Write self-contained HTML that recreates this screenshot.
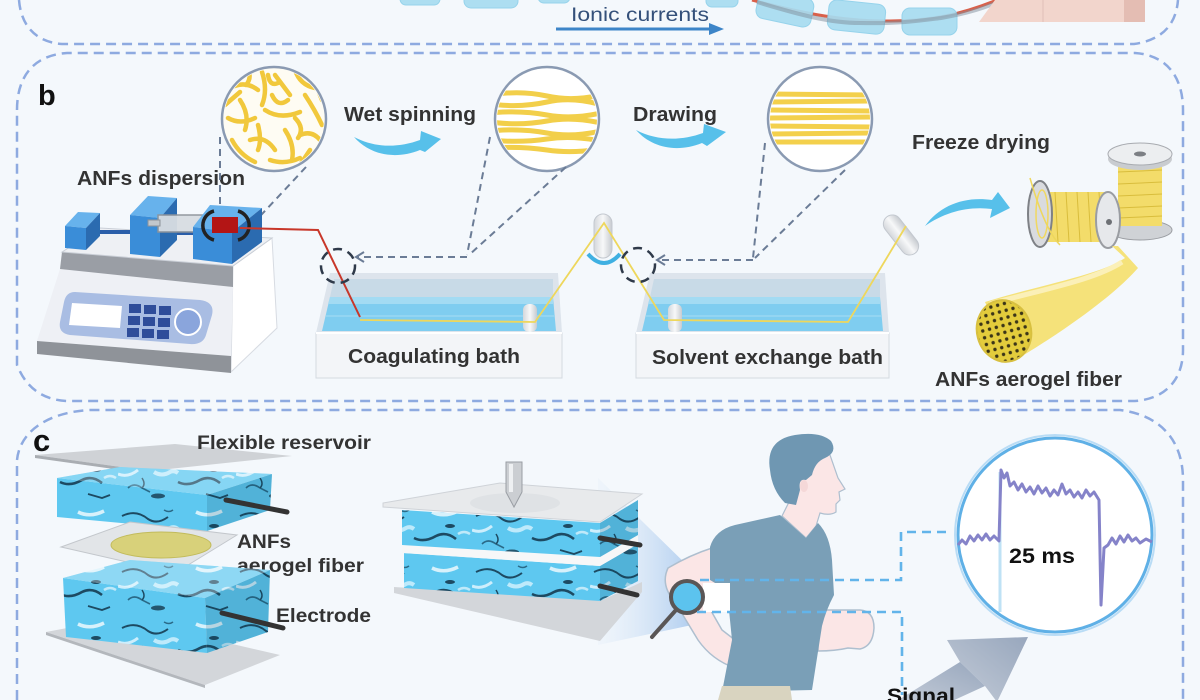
<!DOCTYPE html>
<html><head><meta charset="utf-8"><style>
html,body{margin:0;padding:0;background:#f4f8fc;}
svg{display:block}
text{font-family:"Liberation Sans",sans-serif;}
</style></head><body>
<svg width="1200" height="700" viewBox="0 0 1200 700" xmlns="http://www.w3.org/2000/svg">
<defs>
 <clipPath id="c1"><circle cx="274" cy="119" r="50"/></clipPath>
 <clipPath id="c2"><circle cx="547" cy="119" r="50"/></clipPath>
 <clipPath id="c3"><circle cx="820" cy="119" r="50"/></clipPath>
 <pattern id="foam" patternUnits="userSpaceOnUse" width="118" height="56">
  <rect width="118" height="56" fill="#5ec8f0"/>
  <path d="M4,12 q14,-7 26,3 q9,6 20,-2" stroke="#1d4a62" stroke-width="2" fill="none"/>
  <path d="M60,34 q10,5 22,-2 q10,-5 20,3" stroke="#1d4a62" stroke-width="2.6" fill="none"/>
  <path d="M10,40 q6,-6 14,0 l8,4" stroke="#2a6a88" stroke-width="1.6" fill="none"/>
  <path d="M78,8 q12,6 26,-1" stroke="#ffffff" stroke-width="3.5" fill="none" opacity="0.75"/>
  <path d="M0,26 q10,4 20,-4" stroke="#e8f8ff" stroke-width="3" fill="none" opacity="0.8"/>
  <path d="M36,24 q8,5 16,0 q4,-2 8,1" stroke="#e8f8ff" stroke-width="4" fill="none" opacity="0.7"/>
  <ellipse cx="96" cy="22" rx="5" ry="2" fill="#1d4a62"/>
  <ellipse cx="40" cy="48" rx="7" ry="2.5" fill="#24566f"/>
  <path d="M88,46 l14,4 l8,-3" stroke="#1d4a62" stroke-width="1.8" fill="none"/>
  <path d="M46,6 q5,3 9,0" stroke="#2a6a88" stroke-width="1.5" fill="none"/>
  <path d="M24,30 q4,6 0,10" stroke="#1d4a62" stroke-width="1.5" fill="none"/>
  <path d="M104,30 q6,-4 12,0" stroke="#ffffff" stroke-width="2.5" fill="none" opacity="0.6"/>
 </pattern>
 <pattern id="dots" patternUnits="userSpaceOnUse" width="7" height="7">
  <rect width="7" height="7" fill="#e3cc3c"/>
  <circle cx="3.5" cy="3.5" r="1.7" fill="#3b3518"/>
 </pattern>
 <linearGradient id="glow" x1="0" y1="0" x2="1" y2="0">
  <stop offset="0" stop-color="#e4eef9" stop-opacity="0.3"/>
  <stop offset="1" stop-color="#a9c9ee" stop-opacity="0.9"/>
 </linearGradient>
 <linearGradient id="sig" x1="0" y1="1" x2="1" y2="0">
  <stop offset="0" stop-color="#c4ccd8"/>
  <stop offset="1" stop-color="#98a7bd"/>
 </linearGradient>
 <linearGradient id="roller" x1="0" y1="0" x2="1" y2="0">
  <stop offset="0" stop-color="#d4d7db"/>
  <stop offset="0.5" stop-color="#f7f8f9"/>
  <stop offset="1" stop-color="#c7cbd0"/>
 </linearGradient>
</defs>
<rect width="1200" height="700" fill="#f4f8fc"/>

<!-- ===== Panel a remnants ===== -->
<path d="M752,0 C790,10 840,22 890,21 C930,21 960,15 997,0" stroke="#d9604a" stroke-width="3" fill="none"/>
<g fill="#a7dcf1" stroke="#8fd0ea" stroke-width="1" opacity="0.92">
 <rect x="400" y="-12" width="40" height="17" rx="6"/>
 <rect x="464" y="-14" width="54" height="22" rx="7"/>
 <rect x="538" y="-12" width="32" height="15" rx="6"/>
 <rect x="706" y="-14" width="32" height="21" rx="6"/>
 <rect x="757" y="-6" width="56" height="29" rx="8" transform="rotate(12 785 8)"/>
 <rect x="828" y="2" width="57" height="30" rx="8" transform="rotate(6 856 17)"/>
 <rect x="902" y="8" width="55" height="27" rx="8"/>
</g>
<path d="M757,2 C800,15 830,23 860,23 C900,24 925,20 941,18 C970,13 990,6 1002,0" stroke="#7f8e9c" stroke-width="4" fill="none" opacity="0.5"/>
<polygon points="979,22 995,0 1145,0 1145,22" fill="#f2d5cc"/>
<rect x="1124" y="0" width="21" height="22" fill="#e4bdb3"/>
<line x1="1043" y1="0" x2="1043" y2="22" stroke="#e0c0b8" stroke-width="1"/>
<text x="571" y="21" font-size="19" fill="#34507a" textLength="138" lengthAdjust="spacingAndGlyphs">Ionic currents</text>
<line x1="556" y1="29" x2="712" y2="29" stroke="#3d85c8" stroke-width="3"/>
<polygon points="709,23 724,29 709,35" fill="#3d85c8"/>

<!-- panel borders -->
<g fill="none" stroke="#8eaae0" stroke-width="2.5" stroke-dasharray="10 6">
 <path d="M19,0 C21,25 35,42 62,44 L1134,44 C1162,40 1176,25 1178,0"/>
 <path d="M17,110 C17,75 35,55 67,53 L1135,53 C1165,55 1183,75 1183,110 L1183,350 C1183,380 1165,399 1135,401 L67,401 C45,400 27,390 17,365 Z"/>
 <path d="M17,700 L17,460 C20,430 50,412 90,410 L1120,410 C1160,415 1183,440 1183,480 L1183,700"/>
</g>

<!-- ===== Panel b ===== -->
<text x="38" y="105" font-size="29" font-weight="bold" fill="#111">b</text>

<circle cx="274" cy="119" r="52" fill="#fefcf3" stroke="#8a9ab2" stroke-width="2.5"/>
<g clip-path="url(#c1)" stroke="#f1c83c" stroke-width="4.5" fill="none" stroke-linecap="round">
 <path d="M230,88 Q245,80 258,90"/><path d="M262,72 Q268,90 262,105"/><path d="M275,75 L290,95"/>
 <path d="M295,70 Q300,85 315,88"/><path d="M240,100 Q250,115 245,130"/><path d="M228,118 Q240,125 255,118"/>
 <path d="M265,110 Q280,120 300,112"/><path d="M305,95 Q315,110 322,125"/><path d="M285,130 Q295,145 292,160"/>
 <path d="M250,140 Q265,135 275,150"/><path d="M232,140 Q240,155 255,162"/><path d="M300,135 Q312,130 320,140"/>
 <path d="M270,160 Q285,165 300,158"/><path d="M248,70 Q252,78 246,85"/><path d="M288,100 Q278,108 272,95"/>
 <path d="M310,150 L298,168"/><path d="M225,105 L240,92"/><path d="M258,125 Q262,140 258,150"/>
 <path d="M280,82 Q270,88 268,75"/><path d="M312,75 L322,100"/><path d="M238,160 L228,150"/><path d="M295,118 Q305,128 298,138"/>
</g>
<circle cx="547" cy="119" r="52" fill="#ffffff" stroke="#8a9ab2" stroke-width="2.5"/>
<g clip-path="url(#c2)" stroke="#f2cf4a" stroke-width="5" fill="none">
 <path d="M490,95 Q520,90 547,96 T605,94"/><path d="M490,104 Q520,108 547,102 T605,106"/>
 <path d="M490,113 Q520,110 547,115 T605,112"/><path d="M490,122 Q520,126 547,121 T605,124"/>
 <path d="M490,131 Q520,128 547,133 T605,130"/><path d="M490,140 Q520,143 547,139 T605,142"/>
 <path d="M490,148 Q520,146 547,150 T605,148"/>
</g>
<circle cx="820" cy="119" r="52" fill="#ffffff" stroke="#8a9ab2" stroke-width="2.5"/>
<g clip-path="url(#c3)" stroke="#f3d04c" stroke-width="5" fill="none">
 <path d="M765,94 L875,95"/><path d="M765,102 L875,101"/><path d="M765,110 L875,111"/>
 <path d="M765,118 L875,117"/><path d="M765,126 L875,127"/><path d="M765,134 L875,133"/><path d="M765,142 L875,142"/>
</g>

<text x="344" y="121" font-size="20" font-weight="bold" fill="#333" textLength="132" lengthAdjust="spacingAndGlyphs">Wet spinning</text>
<text x="77" y="185" font-size="20" font-weight="bold" fill="#333" textLength="168" lengthAdjust="spacingAndGlyphs">ANFs dispersion</text>
<text x="633" y="121" font-size="20" font-weight="bold" fill="#333" textLength="84" lengthAdjust="spacingAndGlyphs">Drawing</text>
<text x="912" y="149" font-size="20" font-weight="bold" fill="#333" textLength="138" lengthAdjust="spacingAndGlyphs">Freeze drying</text>

<g fill="#57c0ea">
 <path d="M354,137 C370,155 395,160 420,150 L425,152 L441,139 L421,131 L420,140 C398,148 375,148 354,137 Z"/>
 <path d="M636,130 C652,148 677,153 702,143 L707,146 L726,132 L704,124 L703,133 C681,141 657,141 636,130 Z"/>
 <path d="M925,226 C940,205 965,196 992,200 L998,192 L1010,208 L990,218 L992,209 C968,206 945,212 925,226 Z"/>
</g>

<g fill="none" stroke="#6b7c96" stroke-width="2" stroke-dasharray="7 5">
 <path d="M220,137 L220,217"/><path d="M306,167 L249,228"/>
 <path d="M490,137 L467,255"/><path d="M566,167 L469,255"/><path d="M467,257 L358,257"/>
 <path d="M765,143 L753,258"/><path d="M845,170 L755,258"/><path d="M753,260 L659,260"/>
</g>
<path d="M364,252 L356,257 L364,262" stroke="#6b7c96" stroke-width="2" fill="none"/>
<path d="M665,255 L657,260 L665,265" stroke="#6b7c96" stroke-width="2" fill="none"/>

<!-- pump -->
<polygon points="233,266 272,238 277,328 231,372" fill="#ffffff" stroke="#d7dbe2"/>
<polygon points="60,269 233,287 231,356 37,341" fill="#eef0f5"/>
<polygon points="37,341 231,356 231,373 37,354" fill="#8f9399"/>
<polygon points="62,252 233,266 233,287 60,269" fill="#9a9ea5"/>
<polygon points="62,252 100,228 272,238 233,266" fill="#eef0f4" stroke="#c9ced6"/>
<path d="M75,292 L200,300 Q215,302 212,315 L206,335 Q203,345 190,344 L70,335 Q58,333 60,322 L64,302 Q66,292 75,292 Z" fill="#a9bde3"/>
<polygon points="72,303 122,306 120,328 69,325" fill="#ffffff"/>
<g fill="#2f4d9a">
 <rect x="129" y="304" width="12" height="9"/><rect x="144" y="305" width="12" height="9"/><rect x="159" y="306" width="12" height="9"/>
 <rect x="128" y="316" width="12" height="9"/><rect x="143" y="317" width="12" height="9"/><rect x="158" y="318" width="12" height="9"/>
 <rect x="127" y="328" width="12" height="9"/><rect x="142" y="329" width="12" height="9"/><rect x="157" y="330" width="12" height="9"/>
</g>
<circle cx="188" cy="322" r="13" fill="#8aa5dc" stroke="#ffffff" stroke-width="2"/>
<line x1="95" y1="232" x2="135" y2="232" stroke="#2a5da8" stroke-width="4"/>
<line x1="170" y1="233" x2="200" y2="233" stroke="#2a5da8" stroke-width="4"/>
<polygon points="65,226 78,212 100,213 86,228" fill="#67b2ec"/>
<polygon points="86,228 100,213 100,236 86,250" fill="#2b6bb0"/>
<polygon points="65,226 86,228 86,250 65,248" fill="#3a8dd8"/>
<polygon points="130,215 148,196 177,198 160,218" fill="#67b2ec"/>
<polygon points="160,218 177,198 177,240 160,257" fill="#2b6bb0"/>
<polygon points="130,215 160,218 160,257 130,254" fill="#3a8dd8"/>
<rect x="158" y="215" width="56" height="17" fill="#d8dde2" stroke="#8d939a" stroke-width="1.5" opacity="0.95"/>
<rect x="148" y="220" width="12" height="6" fill="#c2c7cc" stroke="#8d939a"/>
<polygon points="193,227 210,205 262,208 232,232" fill="#67b2ec"/>
<polygon points="232,232 262,208 262,242 232,264" fill="#2b6bb0"/>
<polygon points="193,227 232,232 232,264 193,259" fill="#3a8dd8"/>
<rect x="212" y="217" width="26" height="16" fill="#b31515"/>
<path d="M214,211 A15,15 0 0,0 214,240" stroke="#222" stroke-width="3.5" fill="none"/>
<path d="M238,211 A15,15 0 0,1 238,240" stroke="#222" stroke-width="3.5" fill="none"/>

<!-- coagulating bath -->
<polygon points="330,273 558,273 562,333 316,333" fill="#dde4ec"/>
<polygon points="334,279 553,279 553,297 330,297" fill="#c8dae7"/>
<polygon points="330,297 553,297 556,331 322,331" fill="#7fcdf0"/>
<polygon points="330,297 553,297 553,304 328,304" fill="#a3dbf3"/>
<line x1="326" y1="316" x2="555" y2="316" stroke="#9ad8f3" stroke-width="1.5"/>
<rect x="523" y="304" width="14" height="28" rx="6" fill="url(#roller)"/>
<rect x="316" y="333" width="246" height="45" fill="#f3f5f8" stroke="#d5dae1"/>
<line x1="316" y1="333" x2="562" y2="333" stroke="#ffffff" stroke-width="2"/>
<text x="348" y="363" font-size="20" font-weight="bold" fill="#333" textLength="172" lengthAdjust="spacingAndGlyphs">Coagulating bath</text>
<!-- solvent bath -->
<polygon points="650,273 885,273 889,333 636,333" fill="#dde4ec"/>
<polygon points="654,279 880,279 880,297 650,297" fill="#c8dae7"/>
<polygon points="650,297 880,297 883,331 642,331" fill="#7fcdf0"/>
<polygon points="650,297 880,297 880,304 648,304" fill="#a3dbf3"/>
<line x1="646" y1="316" x2="882" y2="316" stroke="#9ad8f3" stroke-width="1.5"/>
<rect x="668" y="304" width="14" height="28" rx="6" fill="url(#roller)"/>
<rect x="636" y="333" width="253" height="45" fill="#f3f5f8" stroke="#d5dae1"/>
<line x1="636" y1="333" x2="889" y2="333" stroke="#ffffff" stroke-width="2"/>
<text x="652" y="364" font-size="20" font-weight="bold" fill="#333" textLength="231" lengthAdjust="spacingAndGlyphs">Solvent exchange bath</text>

<rect x="594" y="214" width="18" height="44" rx="9" fill="url(#roller)" stroke="#c3c8cf"/>
<path d="M588,254 Q604,272 620,254" stroke="#3fb0e2" stroke-width="4" fill="none"/>
<rect x="892" y="212" width="18" height="46" rx="9" fill="url(#roller)" stroke="#c3c8cf" transform="rotate(-38 901 235)"/>

<polyline points="240,228 318,230 360,317" fill="none" stroke="#c8372a" stroke-width="2"/>
<polyline points="360,320 535,322 604,223 664,320 848,322 906,226" fill="none" stroke="#eed75c" stroke-width="1.8"/>

<circle cx="338" cy="266" r="17" fill="none" stroke="#2f3a4a" stroke-width="2.5" stroke-dasharray="9 6"/>
<circle cx="638" cy="265" r="17" fill="none" stroke="#2f3a4a" stroke-width="2.5" stroke-dasharray="9 6"/>

<!-- spools -->
<ellipse cx="1140" cy="230" rx="32" ry="10" fill="#cfd2d6" stroke="#9a9da2"/>
<rect x="1118" y="160" width="44" height="66" fill="#f3dc6a"/>
<g stroke="#d9bd3c" stroke-width="1">
 <line x1="1118" y1="172" x2="1162" y2="170"/><line x1="1118" y1="184" x2="1162" y2="182"/>
 <line x1="1118" y1="196" x2="1162" y2="194"/><line x1="1118" y1="208" x2="1162" y2="206"/><line x1="1118" y1="218" x2="1162" y2="216"/>
</g>
<ellipse cx="1140" cy="159" rx="32" ry="11" fill="#c9ccd0"/>
<ellipse cx="1140" cy="154" rx="32" ry="11" fill="#eceef0" stroke="#a8abb0"/>
<ellipse cx="1140" cy="154" rx="6" ry="2.5" fill="#7c7f84"/>
<rect x="1045" y="192" width="62" height="50" fill="#f3dc6a"/>
<g stroke="#d9bd3c" stroke-width="1">
 <line x1="1055" y1="192" x2="1058" y2="242"/><line x1="1066" y1="192" x2="1069" y2="242"/><line x1="1077" y1="192" x2="1080" y2="242"/>
 <line x1="1088" y1="192" x2="1091" y2="242"/><line x1="1099" y1="192" x2="1102" y2="242"/>
</g>
<ellipse cx="1040" cy="214" rx="12" ry="33" fill="#d9dbdf" stroke="#7e8186" stroke-width="2"/>
<ellipse cx="1042" cy="214" rx="6" ry="24" fill="none" stroke="#f0d860" stroke-width="1.5"/>
<ellipse cx="1108" cy="220" rx="12" ry="28" fill="#e6e8eb" stroke="#9a9da2" stroke-width="2"/>
<circle cx="1109" cy="222" r="3" fill="#6d7075"/>
<path d="M1030,178 Q1045,230 1060,245" stroke="#eed75c" stroke-width="1.5" fill="none"/>
<path d="M985,302 C1040,285 1100,275 1125,258 L1112,246 L1118,246 L1138,268 C1110,300 1050,340 1012,362 Z" fill="#f5e27a"/>
<path d="M990,304 C1040,290 1095,280 1122,262" stroke="#fbf0b8" stroke-width="5" fill="none"/>
<ellipse cx="1004" cy="331" rx="27" ry="31" fill="url(#dots)" stroke="#d8c040" stroke-width="2" transform="rotate(-15 1004 331)"/>
<text x="935" y="386" font-size="20" font-weight="bold" fill="#333" textLength="187" lengthAdjust="spacingAndGlyphs">ANFs aerogel fiber</text>

<!-- ===== Panel c ===== -->
<polygon points="35,455 175,444 292,456 150,471" fill="#cfd2d6"/>
<polygon points="35,455 150,471 150,474 35,458" fill="#a9adb2"/>
<text x="33" y="451" font-size="31" font-weight="bold" fill="#111">c</text>
<text x="197" y="449" font-size="19" font-weight="bold" fill="#333" textLength="174" lengthAdjust="spacingAndGlyphs">Flexible reservoir</text>
<!-- top block -->
<polygon points="57,478 120,467 272,474 207,495" fill="url(#foam)"/>
<polygon points="57,478 207,495 207,531 57,517" fill="url(#foam)"/>
<polygon points="207,495 272,474 270,510 207,531" fill="url(#foam)"/>
<polygon points="207,495 272,474 270,510 207,531" fill="#0a3550" opacity="0.15"/>
<polygon points="57,478 120,467 272,474 207,495" fill="#ffffff" opacity="0.25"/>
<line x1="226" y1="500" x2="287" y2="512" stroke="#333" stroke-width="5" stroke-linecap="round"/>
<!-- middle sheet -->
<polygon points="61,547 130,522 237,535 175,573" fill="#e2e5e8" stroke="#c3c7cc"/>
<ellipse cx="161" cy="545" rx="50" ry="13" fill="#d8d17a" stroke="#c2bb5c"/>
<text x="237" y="548" font-size="19" font-weight="bold" fill="#333" textLength="54" lengthAdjust="spacingAndGlyphs">ANFs</text>
<text x="237" y="572" font-size="19" font-weight="bold" fill="#333" textLength="127" lengthAdjust="spacingAndGlyphs">aerogel fiber</text>
<!-- bottom sheet -->
<polygon points="46,632 120,618 280,655 205,685" fill="#d3d6da"/>
<polygon points="46,632 205,685 205,688 46,635" fill="#b3b7bc"/>
<!-- bottom block -->
<polygon points="63,578 130,560 270,570 205,598" fill="url(#foam)"/>
<polygon points="63,578 205,598 207,653 66,637" fill="url(#foam)"/>
<polygon points="205,598 270,570 268,632 207,653" fill="url(#foam)"/>
<polygon points="205,598 270,570 268,632 207,653" fill="#0a3550" opacity="0.15"/>
<polygon points="63,578 130,560 270,570 205,598" fill="#ffffff" opacity="0.3"/>
<line x1="222" y1="613" x2="283" y2="628" stroke="#333" stroke-width="5" stroke-linecap="round"/>
<text x="276" y="622" font-size="19" font-weight="bold" fill="#333" textLength="95" lengthAdjust="spacingAndGlyphs">Electrode</text>

<!-- glow -->
<polygon points="598,478 692,570 692,625 598,645" fill="url(#glow)"/>
<!-- assembled device -->
<polygon points="394,587 602,600 642,582 642,592 600,641 394,593" fill="#d3d6da"/>
<polygon points="404,553 600,566 600,601 404,588" fill="url(#foam)"/>
<polygon points="600,566 638,544 638,581 600,601" fill="url(#foam)"/>
<polygon points="600,566 638,544 638,581 600,601" fill="#0a3550" opacity="0.15"/>
<polygon points="402,545 600,557 638,535 638,544 600,566 402,553" fill="#f6f7f8"/>
<polygon points="402,510 600,523 600,557 402,545" fill="url(#foam)"/>
<polygon points="600,523 638,500 638,535 600,557" fill="url(#foam)"/>
<polygon points="600,523 638,500 638,535 600,557" fill="#0a3550" opacity="0.15"/>
<polygon points="383,503 500,483 642,494 600,522 383,507" fill="#e8eaec" stroke="#cfd3d8"/>
<ellipse cx="515" cy="503" rx="45" ry="10" fill="#dfe2e5"/>
<line x1="600" y1="538" x2="640" y2="545" stroke="#333" stroke-width="5" stroke-linecap="round"/>
<line x1="600" y1="586" x2="637" y2="595" stroke="#333" stroke-width="5" stroke-linecap="round"/>
<path d="M506,462 L522,462 L522,492 L514,507 L506,492 Z" fill="#cbced2" stroke="#9a9ea4"/>
<rect x="509" y="464" width="4" height="28" fill="#eef0f2"/>

<!-- man -->
<path d="M712,548 Q690,555 668,568 Q660,585 675,602 L698,640 Q712,660 735,668 Q752,671 756,656 Q753,640 735,640 L722,630 L706,602 L718,585 Z" fill="#fbe6e6" stroke="#aebfcf" stroke-width="1.5"/>
<path d="M818,610 L860,610 Q874,611 874,628 Q873,646 860,649 L848,648 Q835,651 818,651 Z" fill="#fbe6e6" stroke="#aebfcf" stroke-width="1.5"/>
<path d="M790,500 L800,460 Q815,445 830,455 L838,478 L845,489 L839,492 L840,500 L836,504 L836,512 Q830,516 820,513 L816,526 L806,538 L782,516 Z" fill="#fbe6e6" stroke="#aebfcf" stroke-width="1.2"/>
<path d="M710,547 Q715,530 735,525 L780,515 L806,538 L818,523 Q830,535 832,560 L834,595 Q826,610 822,626 L812,690 L722,692 L732,640 L727,590 L710,580 Z" fill="#7a9fb7"/>
<path d="M770,470 Q765,440 795,435 Q820,431 831,441 Q838,452 825,458 Q815,462 812,475 L806,480 Q798,478 800,490 L796,505 L785,503 Q772,490 770,470 Z" fill="#6f97b2"/>
<ellipse cx="804" cy="486" rx="4" ry="6" fill="#f5d8d8"/>
<rect x="703" y="583" width="27" height="29" fill="#ffffff"/>
<polygon points="722,686 790,686 792,700 718,700" fill="#d9d4c0"/>
<line x1="676" y1="610" x2="652" y2="637" stroke="#5a5656" stroke-width="4" stroke-linecap="round"/>
<circle cx="687" cy="597" r="16" fill="#5cc3ee" stroke="#5a5656" stroke-width="4"/>
<g fill="none" stroke="#62b4ea" stroke-width="2.6" stroke-dasharray="9 6">
 <path d="M700,580 L901,580 L901,532 L952,532"/>
 <path d="M697,612 L902,612 L902,695"/>
</g>
<!-- signal circle -->
<circle cx="1055" cy="535" r="100" fill="none" stroke="#b9dcf5" stroke-width="2"/>
<circle cx="1055" cy="535" r="97" fill="#ffffff" stroke="#5fb0e6" stroke-width="3"/>
<line x1="1000" y1="472" x2="1000" y2="612" stroke="#bfe2f5" stroke-width="3"/>
<polyline fill="none" stroke="#8583c9" stroke-width="3" stroke-linejoin="round" points="958,545 962,540 966,544 970,536 974,541 978,535 982,540 986,534 990,540 994,536 999,541 1001,470 1004,478 1007,473 1010,486 1014,482 1018,490 1022,484 1026,492 1030,487 1034,494 1038,486 1042,493 1046,488 1050,496 1054,490 1058,495 1062,484 1066,494 1070,490 1074,497 1078,492 1082,498 1086,490 1090,496 1094,492 1099,500 1101,605 1104,548 1108,545 1112,538 1116,544 1120,536 1124,542 1128,535 1132,541 1136,538 1140,543 1146,539 1152,542"/>
<text x="1009" y="563" font-size="21" font-weight="bold" fill="#111" textLength="66" lengthAdjust="spacingAndGlyphs">25 ms</text>
<polygon points="947,640 1028,637 997,702 985,686 960,662" fill="url(#sig)"/>
<polygon points="960,662 985,686 950,702 895,702" fill="url(#sig)"/>
<text x="887" y="703" font-size="21" font-weight="bold" fill="#111" textLength="68" lengthAdjust="spacingAndGlyphs">Signal</text>
</svg>
</body></html>
